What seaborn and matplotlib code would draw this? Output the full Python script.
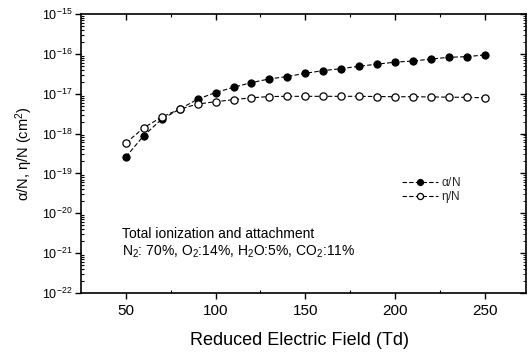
import numpy as np
import pandas as pd
import matplotlib
matplotlib.use("Agg")
import matplotlib.pyplot as plt
import seaborn as sns
from matplotlib.ticker import FixedLocator, NullFormatter, LogFormatterSciNotation

field = [50, 60, 70, 80, 90, 100, 110, 120, 130, 140, 150, 160, 170, 180, 190, 200, 210, 220, 230, 240, 250]
alpha_n = [2.6e-19, 8.9e-19, 2.3e-18, 4.1e-18, 7.3e-18, 1.07e-17, 1.45e-17, 1.9e-17, 2.35e-17, 2.7e-17,
           3.25e-17, 3.8e-17, 4.25e-17, 4.9e-17, 5.5e-17, 6.2e-17, 6.6e-17, 7.4e-17, 8.2e-17, 8.5e-17, 9.4e-17]
eta_n = [5.8e-19, 1.4e-18, 2.6e-18, 4.1e-18, 5.5e-18, 6.3e-18, 7.1e-18, 7.9e-18, 8.5e-18, 8.6e-18,
         8.6e-18, 8.6e-18, 8.6e-18, 8.6e-18, 8.5e-18, 8.4e-18, 8.4e-18, 8.3e-18, 8.2e-18, 8.1e-18, 7.9e-18]
x_ticks = [50, 100, 150, 200, 250]
x_minor = [75, 125, 175, 225]
y_exponents = [-22, -21, -20, -19, -18, -17, -16, -15]

y_major = [10.0 ** e for e in y_exponents]
y_minor = [m * 10.0 ** e for e in y_exponents[:-1] for m in range(2, 10)]

sns.set_theme(style="ticks")
plt.rcParams['font.family'] = ['Liberation Sans', 'DejaVu Sans']
plt.rcParams['mathtext.fontset'] = 'custom'
plt.rcParams['mathtext.rm'] = 'Liberation Sans'
plt.rcParams['mathtext.it'] = 'Liberation Sans'

fig = plt.figure(figsize=(5.31, 3.57), dpi=100)
ax = fig.add_axes([81/531, 1 - 293/357, (526-81)/531, (293-14)/357])

df = pd.DataFrame({"x": field, "a": alpha_n, "e": eta_n})
sns.lineplot(data=df, x="x", y="a", ax=ax, color="black", lw=0.8, linestyle=(0, (4, 2)),
             marker="o", markersize=5.2, markerfacecolor="black", markeredgecolor="black",
             label=r"$\alpha$/N")
sns.lineplot(data=df, x="x", y="e", ax=ax, color="black", lw=0.8, linestyle=(0, (4, 2)),
             marker="o", markersize=5.2, markerfacecolor="white", markeredgecolor="black",
             markeredgewidth=0.9, label=r"$\eta$/N")

ylim = (y_major[0], y_major[-1])
xlim = (25, 273)
ax.set_yscale("log")
ax.set_ylim(*ylim)
ax.set_xlim(*xlim)
ax.xaxis.set_major_locator(FixedLocator(x_ticks))
ax.xaxis.set_minor_locator(FixedLocator(x_minor))
ax.yaxis.set_major_locator(FixedLocator(y_major))
ax.yaxis.set_minor_locator(FixedLocator(y_minor))
ax.yaxis.set_major_formatter(LogFormatterSciNotation(base=10))
ax.yaxis.set_minor_formatter(NullFormatter())

for s in ax.spines.values():
    s.set_linewidth(1.2)
    s.set_color("black")

ax.tick_params(which="both", left=True, bottom=True, right=False, top=False, colors="black")
ax.tick_params(which="major", direction="out", length=4, width=1)
ax.tick_params(which="minor", direction="in", length=2.5, width=0.8)
ax.tick_params(axis="y", which="major", labelsize=9, pad=2)
ax.tick_params(axis="x", which="major", labelsize=11, pad=4)

# right and top ticks pointing inward
axr = ax.twinx()
axr.set_yscale("log")
axr.set_ylim(*ylim)
axr.yaxis.set_major_locator(FixedLocator(y_major))
axr.yaxis.set_minor_locator(FixedLocator(y_minor))
axr.tick_params(which="both", direction="in", labelright=False, colors="black")
axr.tick_params(which="major", length=4, width=1)
axr.tick_params(which="minor", length=2, width=0.6)
axt = ax.twiny()
axt.set_xlim(*xlim)
axt.xaxis.set_major_locator(FixedLocator(x_ticks))
axt.xaxis.set_minor_locator(FixedLocator(x_minor))
axt.tick_params(which="both", direction="in", labeltop=False, colors="black")
axt.tick_params(which="major", length=4, width=1)
axt.tick_params(which="minor", length=2.5, width=0.8)
for a in (axr, axt):
    for s in a.spines.values():
        s.set_visible(False)

ax.set_xlabel("Reduced Electric Field (Td)", fontsize=13, color="black")
ax.xaxis.set_label_coords(0.49, -0.14)
ax.set_ylabel(r"$\alpha$/N, $\eta$/N (cm$^2$)", fontsize=10.5, labelpad=5, color="black")

ax.text(0.092, 0.211, "Total ionization and attachment", transform=ax.transAxes,
        fontsize=10, color="black", va="center")
ax.text(0.092, 0.147, r"N$_2$: 70%, O$_2$:14%, H$_2$O:5%, CO$_2$:11%", transform=ax.transAxes,
        fontsize=10, color="black", va="center")

leg = ax.legend(loc="upper left", bbox_to_anchor=(0.722, 0.42), frameon=False, fontsize=8.5,
                handlelength=3.0, handletextpad=0.3, labelspacing=0.0, borderaxespad=0,
                borderpad=0, markerscale=0.85)

fig.savefig("out.png", dpi=100)
